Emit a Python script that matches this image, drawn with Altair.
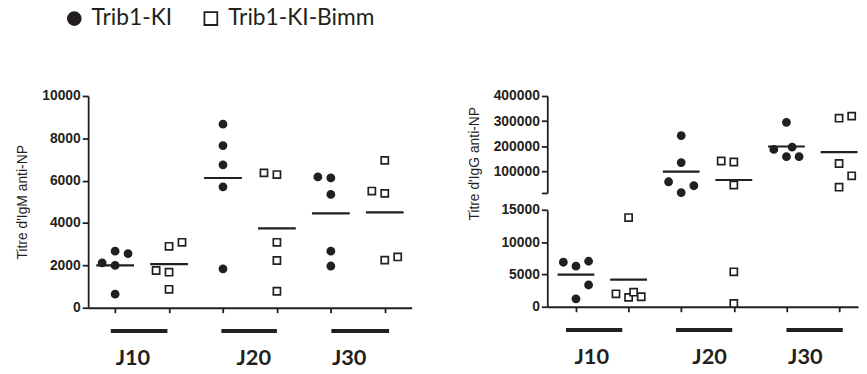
import altair as alt
import pandas as pd

INK = "#231f20"
GROUPS = ["Trib1-KI", "Trib1-KI-Bimm"]
DAYS = ["J10", "J20", "J30"]

# IgM anti-NP titres (left panel), one list per day
IGM_KI = [[2120, 2670, 2560, 2000, 640],
          [8670, 7660, 6750, 5710, 1840],
          [6180, 6130, 5350, 2670, 1970]]
IGM_BIMM = [[1760, 1680, 2900, 3090, 870],
            [6370, 6290, 3090, 2230, 780],
            [6960, 5510, 5400, 2250, 2400]]
# IgG anti-NP titres (right panel)
IGG_KI = [[6890, 6280, 7040, 3370, 1220],
          [242900, 135600, 59400, 43700, 16500],
          [295000, 188000, 197000, 159000, 159000]]
IGG_BIMM = [[13800, 2000, 1450, 2250, 1550],
            [142000, 138000, 46400, 5400, 500],
            [312000, 320000, 132000, 83000, 38000]]

# beeswarm slot of each point (left / centre / right)
IGM_KI_SLOT = [[-1, 0, 1, 0, 0], [0, 0, 0, 0, 0], [-1, 0, 0, 0, 0]]
IGM_BIMM_SLOT = [[-1, 0, 0, 1, 0], [-1, 0, 0, 0, 0], [0, -1, 0, 0, 1]]
IGG_KI_SLOT = [[-1, 0, 1, 1, 0], [0, 0, -1, 1, 0], [0, -1, 0.45, 0, 1]]
IGG_BIMM_SLOT = [[0, -1, 0, 0.4, 1], [-1, 0, 0, 0, 0], [0, 1, 0, 1, 0]]

IGM_TICKS = [0, 2000, 4000, 6000, 8000, 10000]
IGG_LOW_TICKS = [0, 5000, 10000, 15000]
IGG_HIGH_TICKS = [15000, 100000, 200000, 300000, 400000]
BREAK = 15000

# layout constants (in group-position units)
SLOT_W = 0.24
HALF = 0.35
LEFT_BAR = ([0.92, 2.97, 5.01], [1.97, 4.0, 6.08], [1.33, 3.57, 5.34])
RIGHT_BAR = ([0.81, 2.90, 5.0], [1.88, 3.97, 6.07], [1.30, 3.54, 5.36])


def build(ki, ki_slot, bimm, bimm_slot):
    pts, means = [], []
    for d, day in enumerate(DAYS):
        for g, (vals, slots) in enumerate([(ki[d], ki_slot[d]), (bimm[d], bimm_slot[d])]):
            pos = 2 * d + g + 1
            for v, s in zip(vals, slots):
                pts.append(dict(group=GROUPS[g], day=day, x=pos + s * SLOT_W, value=v))
            means.append(dict(group=GROUPS[g], day=day, x1=pos - HALF, x2=pos + HALF,
                              value=sum(vals) / len(vals)))
    return pd.DataFrame(pts), pd.DataFrame(means)


igm_pts, igm_means = build(IGM_KI, IGM_KI_SLOT, IGM_BIMM, IGM_BIMM_SLOT)
igg_pts, igg_means = build(IGG_KI, IGG_KI_SLOT, IGG_BIMM, IGG_BIMM_SLOT)

shape_scale = alt.Scale(domain=GROUPS, range=["circle", "square"])
fill_scale = alt.Scale(domain=GROUPS, range=[INK, "white"])
stroke_scale = alt.Scale(domain=GROUPS, range=[INK, INK])
legend = alt.Legend(orient="none", direction="horizontal", legendX=-25.5, legendY=-90,
                    title=None, labelFont="Lato", labelFontSize=23, labelColor=INK,
                    labelOffset=6, columnPadding=27, symbolSize=169,
                    symbolStrokeWidth=1.8, padding=0, labelLimit=400)

x_axis = alt.Axis(values=[1, 2, 3, 4, 5, 6], labels=False, title=None, tickSize=5,
                  grid=False, tickCount=20)


def panel(pts, means, xscale, yscale, yaxis, xaxis):
    p = alt.Chart(pts).mark_point(size=52, strokeWidth=1.7, opacity=1, fillOpacity=1).encode(
        x=alt.X("x:Q", scale=xscale, axis=xaxis),
        y=alt.Y("value:Q", scale=yscale, axis=yaxis),
        shape=alt.Shape("group:N", scale=shape_scale, legend=legend),
        fill=alt.Fill("group:N", scale=fill_scale, legend=legend),
        stroke=alt.Stroke("group:N", scale=stroke_scale, legend=legend),
    )
    m = alt.Chart(means).mark_rule(strokeWidth=2.2, color=INK).encode(
        x="x1:Q", x2="x2:Q", y="value:Q")
    return p, m


def annotations(bar, ybar, ytext):
    ann = pd.DataFrame({"day": DAYS, "bx1": bar[0], "bx2": bar[1], "lx": bar[2]})
    bars = alt.Chart(ann).mark_rule(strokeWidth=4, color=INK).encode(
        x="bx1:Q", x2="bx2:Q", y=alt.value(ybar))
    labels = alt.Chart(ann).mark_text(font="Lato", fontWeight="bold", fontSize=22,
                                      baseline="alphabetic", color=INK).encode(
        x="lx:Q", y=alt.value(ytext), text="day:N")
    return bars, labels


# ---- left panel (IgM)
lx = alt.Scale(domain=[0.5, 6.5], nice=False, zero=False)
ly = alt.Scale(domain=[0, 10000], nice=False)
ly_axis = alt.Axis(values=IGM_TICKS, format="d", title="Titre d'IgM anti-NP",
                   titleX=-66, titleY=107, titleBaseline="middle", grid=False,
                   labelOverlap=False, tickCount=20)
lp, lm = panel(igm_pts, igm_means, lx, ly, ly_axis, x_axis)
lb, ll = annotations(LEFT_BAR, 237.5, 272)
left = alt.layer(lp, lm, lb, ll).properties(width=327, height=214)

# ---- right panel (IgG, broken axis)
rx = alt.Scale(domain=[0.455, 6.36], nice=False, zero=False)
ry_hi = alt.Scale(domain=[BREAK, 400000], nice=False, zero=False)
ry_lo = alt.Scale(domain=[0, BREAK], nice=False)
ry_hi_axis = alt.Axis(values=IGG_HIGH_TICKS, format="d", title="Titre d'IgG anti-NP",
                      titleX=-74, titleY=68, titleBaseline="middle", grid=False,
                      labelOverlap=False, tickCount=20,
                      labelExpr=f"datum.value <= {BREAK} ? '' : datum.label")
ry_lo_axis = alt.Axis(values=IGG_LOW_TICKS, format="d", title=None, grid=False,
                      labelOverlap=False, tickCount=20)

hp, hm = panel(igg_pts[igg_pts.value > BREAK], igg_means[igg_means.value > BREAK],
               rx, ry_hi, ry_hi_axis, None)
upper = alt.layer(hp, hm).properties(width=314, height=98)

wp, wm = panel(igg_pts[igg_pts.value <= BREAK], igg_means[igg_means.value <= BREAK],
               rx, ry_lo, ry_lo_axis, x_axis)
rb, rl = annotations(RIGHT_BAR, 121.5, 156)
lower = alt.layer(wp, wm, rb, rl).properties(width=314, height=98)

right = alt.vconcat(upper, lower, spacing=17, bounds="flush").resolve_scale(
    x="independent", y="independent")

chart = alt.hconcat(left, right, spacing=137, bounds="flush").resolve_scale(
    x="independent", y="independent"
).properties(
    padding={"left": 7, "top": -3, "right": 0, "bottom": 0},
    background="white",
).configure_axis(
    domainColor=INK, domainWidth=1.8, tickColor=INK, tickWidth=1.8, tickSize=6,
    labelFont="Liberation Sans", labelFontWeight="bold", labelFontSize=14,
    labelColor=INK, labelPadding=2,
    titleFont="Liberation Sans", titleFontWeight="normal", titleFontSize=14,
    titleColor=INK,
).configure_view(stroke=None)

chart.save("out.html", embed_options={"renderer": "svg", "actions": False})
